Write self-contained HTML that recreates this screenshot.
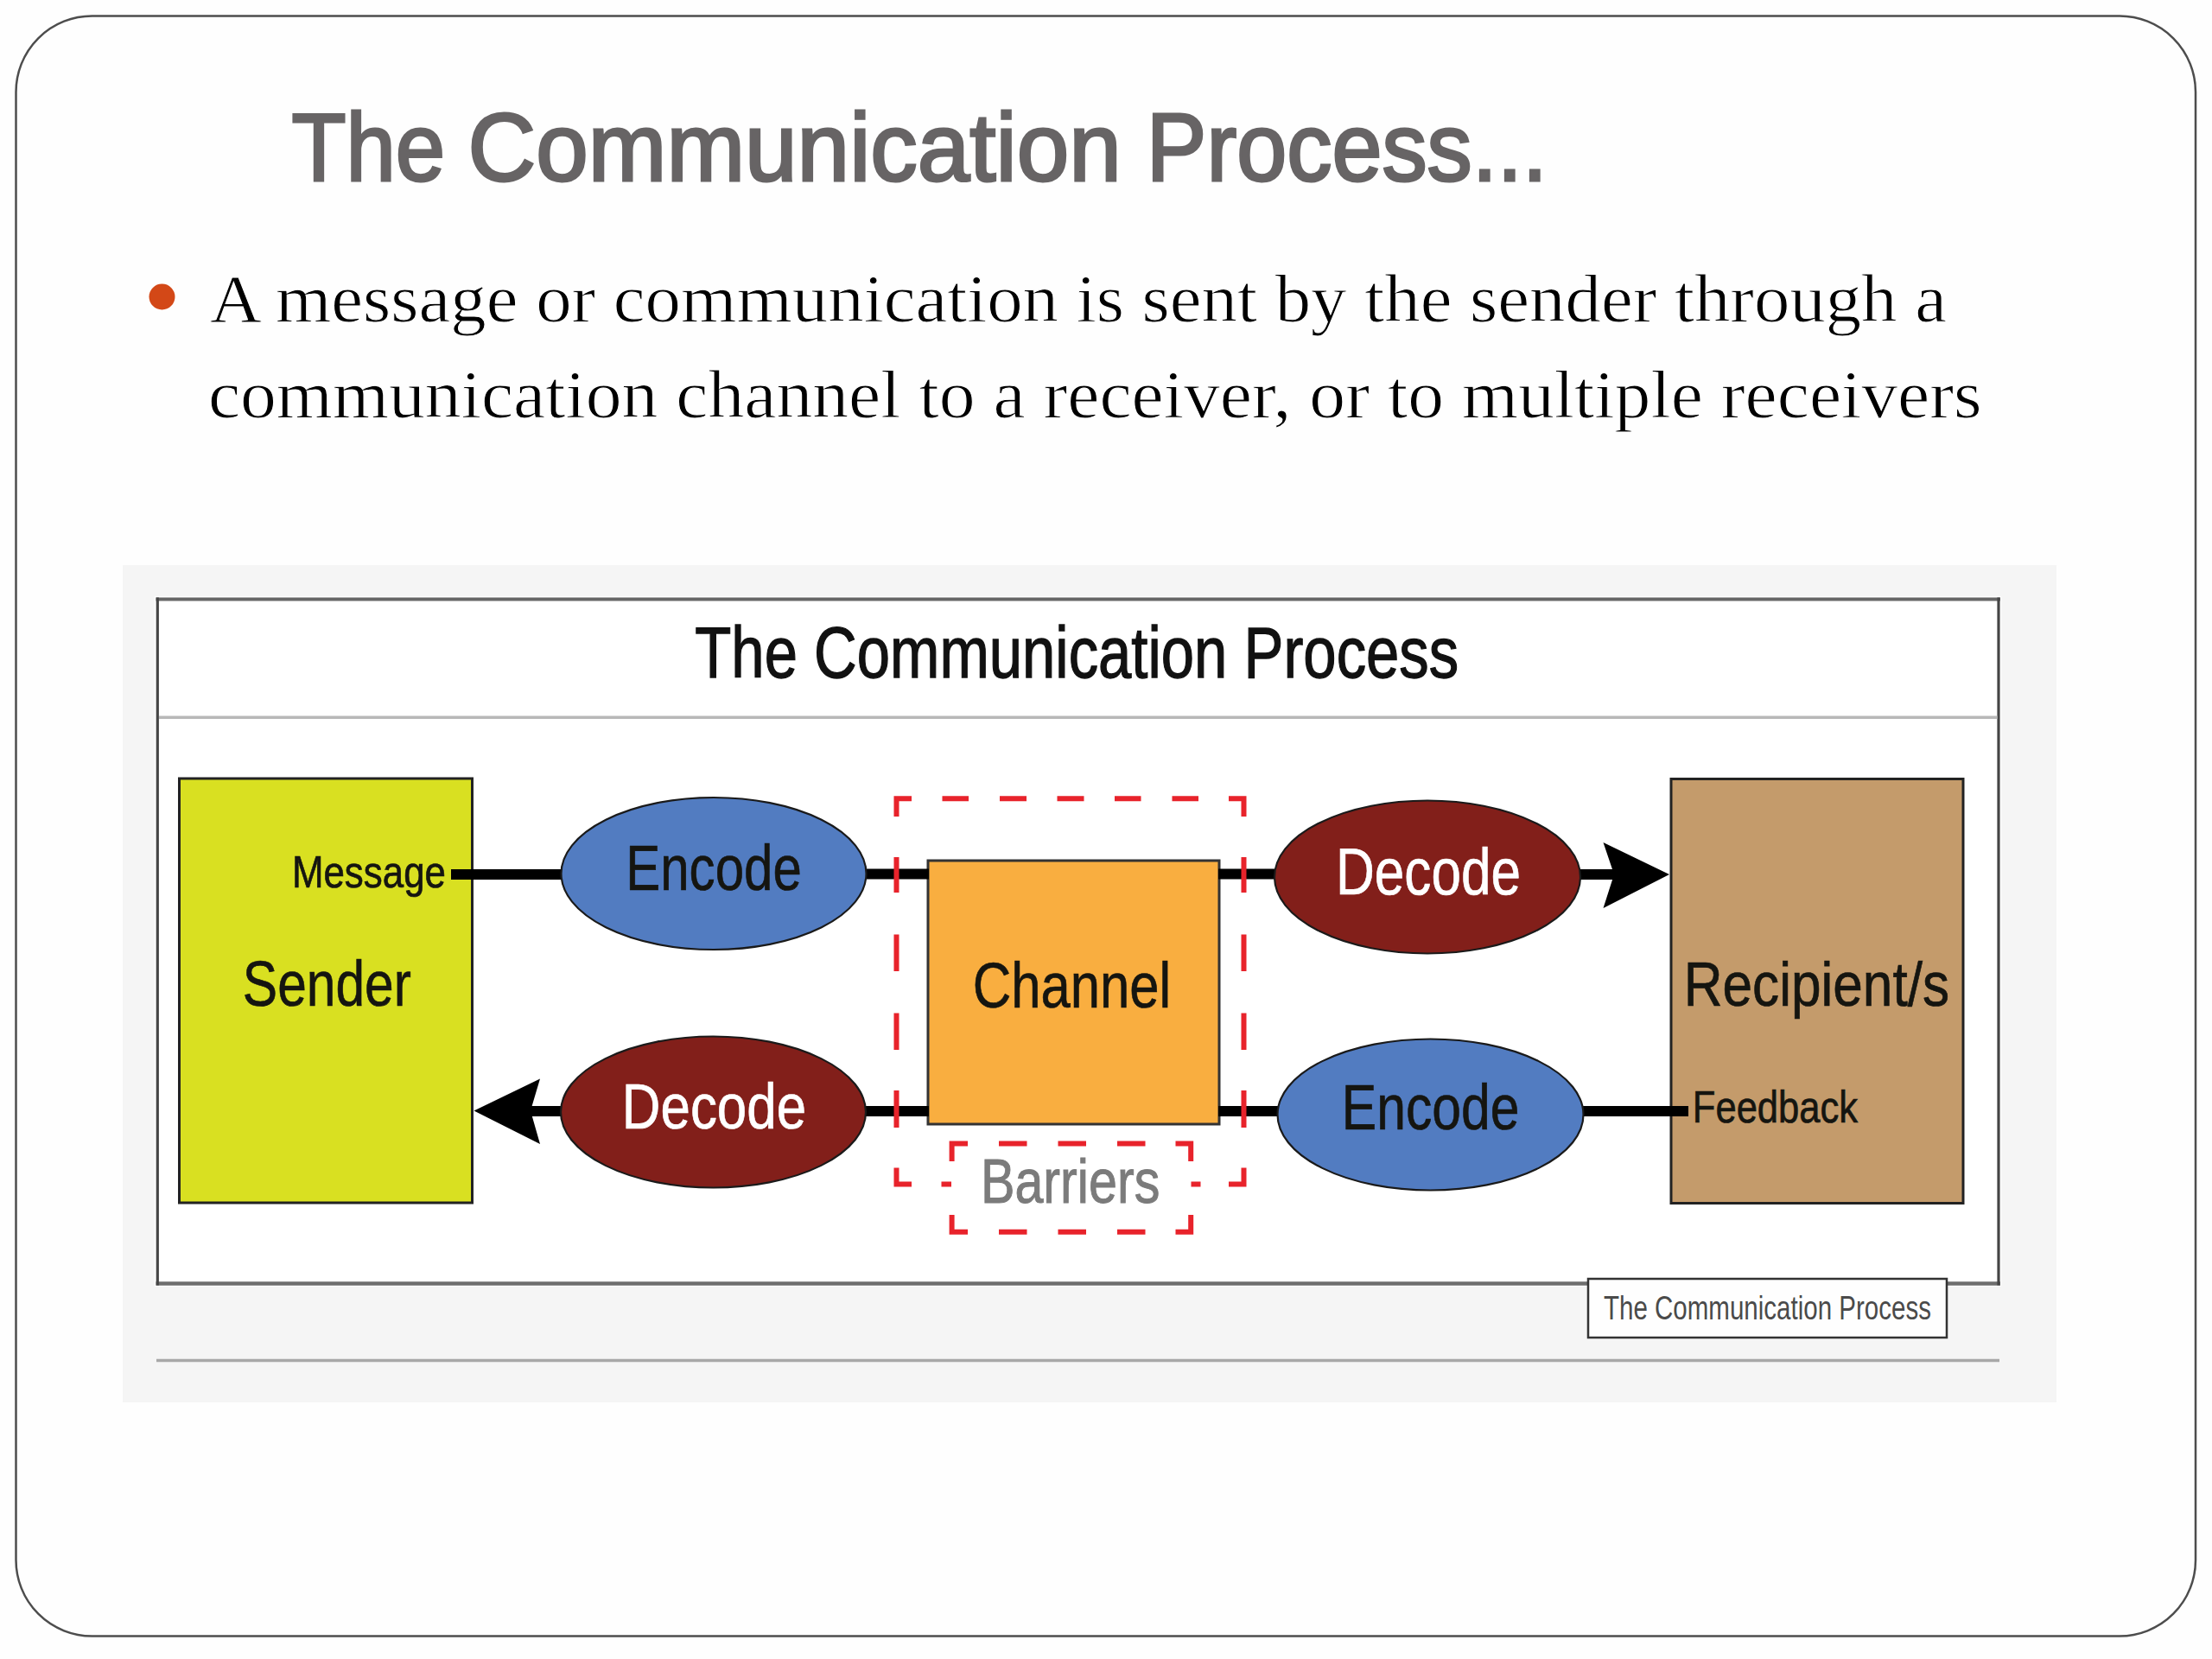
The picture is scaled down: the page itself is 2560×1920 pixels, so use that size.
<!DOCTYPE html>
<html>
<head>
<meta charset="utf-8">
<style>
html,body{margin:0;padding:0;background:#fefefe;}
body{width:2560px;height:1920px;overflow:hidden;position:relative;}
svg{position:absolute;left:0;top:0;}
.sans{font-family:"Liberation Sans",sans-serif;}
.serif{font-family:"Liberation Serif",serif;}
</style>
</head>
<body>
<svg width="2560" height="1920" viewBox="0 0 2560 1920">
  <!-- slide frame -->
  <rect x="18.5" y="18.5" width="2522.5" height="1875" rx="88" ry="88" fill="#fefefe" stroke="#4d4d4d" stroke-width="2.5"/>

  <!-- title -->
  <g class="sans" font-size="112" fill="#676465" stroke="#676465" stroke-width="3">
    <text id="t1" x="337.4" y="208.5" textLength="177.7" lengthAdjust="spacingAndGlyphs">The</text>
    <text id="t2" x="541.5" y="208.5" textLength="756.4" lengthAdjust="spacingAndGlyphs">Communication</text>
    <text id="t3" x="1326.8" y="208.5" textLength="464" lengthAdjust="spacingAndGlyphs">Process...</text>
  </g>

  <!-- bullet -->
  <circle cx="187.5" cy="343.5" r="15" fill="#d34817"/>
  <text class="serif" x="243" y="372" font-size="78" fill="#000" stroke="#fefefe" stroke-width="1" textLength="2010" lengthAdjust="spacingAndGlyphs">A message or communication is sent by the sender through a</text>
  <text class="serif" x="240.9" y="482.5" font-size="78" fill="#000" stroke="#fefefe" stroke-width="1" textLength="2052.8" lengthAdjust="spacingAndGlyphs">communication channel to a receiver, or to multiple receivers</text>

  <!-- panel -->
  <rect x="142" y="654" width="2238" height="969" fill="#f5f5f5"/>
  <rect x="179" y="690" width="2137" height="799" fill="#ffffff"/>
  <line x1="180.5" y1="693.5" x2="2315" y2="693.5" stroke="#666" stroke-width="4"/>
  <line x1="180.5" y1="1485.5" x2="2315" y2="1485.5" stroke="#6e6e6e" stroke-width="4.5"/>
  <line x1="182.3" y1="691.5" x2="182.3" y2="1487.5" stroke="#454545" stroke-width="3.2"/>
  <line x1="2313" y1="691.5" x2="2313" y2="1487.5" stroke="#454545" stroke-width="3.2"/>
  <line x1="184" y1="830.3" x2="2311.5" y2="830.3" stroke="#b8b8b8" stroke-width="3.5"/>
  <line x1="181" y1="1574.5" x2="2314" y2="1574.5" stroke="#a8a8a8" stroke-width="3.5"/>

  <!-- diagram title -->
  <text class="sans" x="804.3" y="783.5" font-size="83" fill="#111" stroke="#111" stroke-width="1.3" textLength="883.9" lengthAdjust="spacingAndGlyphs">The Communication Process</text>

  <!-- sender box -->
  <rect x="207.5" y="901" width="339" height="491" fill="#d9e021" stroke="#222" stroke-width="3"/>
  <!-- recipient box -->
  <rect x="1934" y="901.5" width="338" height="491" fill="#c49b6b" stroke="#222" stroke-width="3"/>
  <!-- channel -->
  <rect x="1074" y="996" width="337" height="305" fill="#f9ae40" stroke="#333" stroke-width="3"/>

  <!-- connecting lines -->
  <g stroke="#000" stroke-width="12">
    <line x1="522" y1="1012" x2="650" y2="1012"/>
    <line x1="1002" y1="1011.5" x2="1075" y2="1011.5"/>
    <line x1="1410" y1="1011.5" x2="1476" y2="1011.5"/>
    <line x1="1828" y1="1012" x2="1870" y2="1012"/>
    <line x1="612" y1="1286" x2="650" y2="1286"/>
    <line x1="1002" y1="1286" x2="1075" y2="1286"/>
    <line x1="1410" y1="1286" x2="1480" y2="1286"/>
    <line x1="1832" y1="1286" x2="1954" y2="1286"/>
  </g>
  <!-- arrowheads -->
  <path d="M1932,1012 L1855.5,975 L1868,1012 L1855.5,1051 Z" fill="#000"/>
  <path d="M548.5,1285.5 L625,1248.5 L614,1285.5 L625,1324 Z" fill="#000"/>

  <!-- ellipses -->
  <ellipse cx="826" cy="1011" rx="176.5" ry="88" fill="#527cc1" stroke="#1a1a1a" stroke-width="2.2"/>
  <ellipse cx="1652" cy="1015" rx="177" ry="88.5" fill="#821f1a" stroke="#1a1a1a" stroke-width="2.2"/>
  <ellipse cx="825.5" cy="1287" rx="176.5" ry="87.5" fill="#821f1a" stroke="#1a1a1a" stroke-width="2.2"/>
  <ellipse cx="1655.5" cy="1290" rx="177" ry="87.5" fill="#527cc1" stroke="#1a1a1a" stroke-width="2.2"/>

  <!-- dashed barriers -->
  <path d="M1055,924.2 H1037.5 V945 M1422,924.2 H1439.5 V945 M1090.5,924.2 H1121 M1157,924.2 H1188 M1223.5,924.2 H1254.5 M1290,924.2 H1320.5 M1356.5,924.2 H1387 M1037.5,992 V1033 M1439.5,992 V1033 M1037.5,1081.5 V1124 M1439.5,1081.5 V1124 M1037.5,1172.5 V1215 M1439.5,1172.5 V1215 M1037.5,1262 V1305 M1439.5,1262 V1305 M1037.5,1351.5 V1370.6 H1055 M1439.5,1351.5 V1370.6 H1422 M1089.5,1370.6 H1101 M1378.5,1370.6 H1389.5 M1120,1323.5 H1101.6 V1344 M1360.5,1323.5 H1378.2 V1344 M1101.6,1406 V1425.7 H1120 M1378.2,1406 V1425.7 H1360.5 M1156,1323.5 H1188.5 M1156,1425.7 H1188.5 M1224.5,1323.5 H1257 M1224.5,1425.7 H1257 M1293,1323.5 H1325.5 M1293,1425.7 H1325.5" stroke="#e8232b" stroke-width="6" fill="none"/>

  <!-- labels -->
  <g class="sans" fill="#151510" stroke="#151510" stroke-width="0.7">
    <text x="337.9" y="1026.7" font-size="52.5" textLength="178.1" lengthAdjust="spacingAndGlyphs">Message</text>
    <text x="280.8" y="1163.7" font-size="74.5" textLength="195.0" lengthAdjust="spacingAndGlyphs">Sender</text>
    <text x="724.2" y="1030.2" font-size="73.5" textLength="203.6" lengthAdjust="spacingAndGlyphs">Encode</text>
    <text x="1125.8" y="1165.7" font-size="74.5" textLength="229.5" lengthAdjust="spacingAndGlyphs">Channel</text>
    <text x="1948.7" y="1163.7" font-size="71.5" textLength="307.3" lengthAdjust="spacingAndGlyphs">Recipient/s</text>
    <text x="1958.8" y="1298.7" font-size="52.5" textLength="191.3" lengthAdjust="spacingAndGlyphs">Feedback</text>
    <text x="1552.8" y="1307.2" font-size="73.5" textLength="205.7" lengthAdjust="spacingAndGlyphs">Encode</text>
  </g>
  <g class="sans" fill="#fff" stroke="#fff" stroke-width="0.7">
    <text x="1546.0" y="1034.7" font-size="75.5" textLength="214.0" lengthAdjust="spacingAndGlyphs">Decode</text>
    <text x="719.8" y="1305.7" font-size="73.5" textLength="213.3" lengthAdjust="spacingAndGlyphs">Decode</text>
  </g>
  <text class="sans" x="1134.9" y="1391.7" font-size="71.5" fill="#7b7b7b" stroke="#7b7b7b" stroke-width="1" textLength="207.4" lengthAdjust="spacingAndGlyphs">Barriers</text>

  <!-- caption -->
  <rect x="1838" y="1480" width="415" height="68" fill="#fefefe" stroke="#333" stroke-width="2.5"/>
  <text class="sans" x="1856.0" y="1527" font-size="38" fill="#4a4a4a" textLength="378.9" lengthAdjust="spacingAndGlyphs">The Communication Process</text>
</svg>
</body>
</html>
